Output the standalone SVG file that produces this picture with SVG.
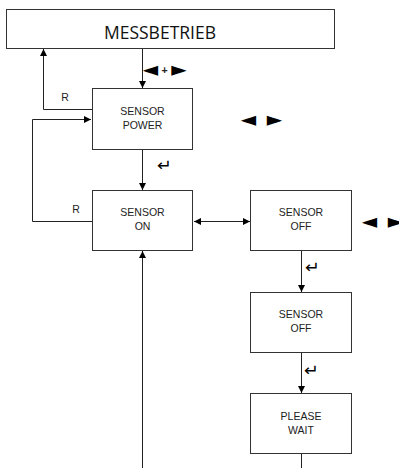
<svg xmlns="http://www.w3.org/2000/svg" width="399" height="468" viewBox="0 0 399 468">
<style>
.box{fill:#fff;stroke:#333;stroke-width:1}
.ln{fill:none;stroke:#222;stroke-width:1}
.t{font-family:"Liberation Sans",Arial,sans-serif;font-size:10.5px;fill:#222;text-anchor:middle}
.big{font-family:"Open Sans","Liberation Sans",sans-serif;font-size:17.5px;fill:#111;text-anchor:middle}
.sym{font-family:"DejaVu Sans",sans-serif;fill:#000;font-size:20px;text-anchor:middle}
.ret{font-family:"DejaVu Sans",sans-serif;fill:#000;font-size:16px}
</style>
<defs>
<marker id="ah" viewBox="0 0 10 10" refX="10" refY="5" markerWidth="7" markerHeight="8" markerUnits="userSpaceOnUse" orient="auto-start-reverse">
<path d="M0,0 L10,5 L0,10 z" fill="#000"/>
</marker>
</defs>
<g id="connectors">
<path class="ln" d="M142.5,48 V88" marker-end="url(#ah)"/>
<path class="ln" d="M92,109.5 H43.5 V49" marker-end="url(#ah)"/>
<path class="ln" d="M92,221.5 H32.5 V119.5 H91" marker-end="url(#ah)"/>
<path class="ln" d="M142.5,149 V190" marker-end="url(#ah)"/>
<path class="ln" d="M194,221.5 H250" marker-start="url(#ah)" marker-end="url(#ah)"/>
<path class="ln" d="M301.5,251 V292" marker-end="url(#ah)"/>
<path class="ln" d="M301.5,352 V393" marker-end="url(#ah)"/>
<path class="ln" d="M301.5,454 V468"/>
<path class="ln" d="M142.5,468 V251" marker-end="url(#ah)"/>
<text class="t" x="65" y="101">R</text>
<text class="t" x="76" y="213">R</text>
<text class="sym" x="150.5" y="75.5">◄</text>
<text class="t" x="164.5" y="73.5" font-size="12" font-weight="bold">+</text>
<text class="sym" x="179" y="75.5">►</text>
<text class="ret" x="157" y="171" textLength="15" lengthAdjust="spacingAndGlyphs">↵</text>
<text class="ret" x="305" y="273" textLength="15" lengthAdjust="spacingAndGlyphs">↵</text>
<text class="ret" x="304" y="376" textLength="15" lengthAdjust="spacingAndGlyphs">↵</text>
</g>
<g id="messbetrieb">
<rect class="box" x="6.5" y="9.5" width="328" height="39"/>
<text class="big" x="160" y="39">MESSBETRIEB</text>
</g>
<g id="sensor-power">
<rect class="box" x="92.5" y="88.5" width="100" height="61"/>
<text class="t" x="142.5" y="115">SENSOR</text>
<text class="t" x="142.5" y="129">POWER</text>
<text class="sym" x="248.5" y="125.5">◄</text>
<text class="sym" x="274.5" y="125.5">►</text>
</g>
<g id="sensor-on">
<rect class="box" x="92.5" y="190.5" width="100" height="60"/>
<text class="t" x="142.5" y="216">SENSOR</text>
<text class="t" x="142.5" y="230">ON</text>
</g>
<g id="sensor-off-1">
<rect class="box" x="250.5" y="190.5" width="101" height="60"/>
<text class="t" x="301" y="216">SENSOR</text>
<text class="t" x="301" y="230">OFF</text>
<text class="sym" x="369.5" y="227.5">◄</text>
<text class="sym" x="395.5" y="227.5">►</text>
</g>
<g id="sensor-off-2">
<rect class="box" x="250.5" y="292.5" width="101" height="60"/>
<text class="t" x="301" y="318">SENSOR</text>
<text class="t" x="301" y="332">OFF</text>
</g>
<g id="please-wait">
<rect class="box" x="250.5" y="393.5" width="101" height="60"/>
<text class="t" x="301" y="420">PLEASE</text>
<text class="t" x="301" y="434">WAIT</text>
</g>
</svg>
